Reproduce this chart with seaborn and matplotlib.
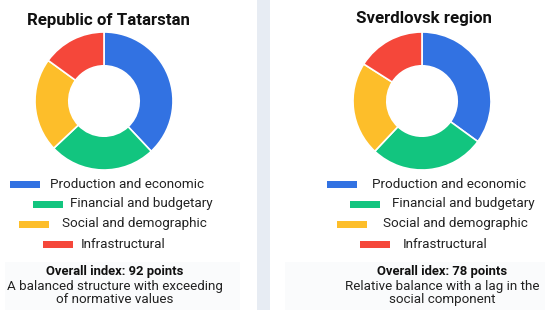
import matplotlib
matplotlib.use("Agg")
import matplotlib.pyplot as plt
import matplotlib.patches as mpatches
import seaborn as sns

sns.set_theme(style="white")
plt.rcParams['font.family'] = ['Roboto', 'DejaVu Sans']

# data
categories = ['Production and economic', 'Financial and budgetary',
              'Social and demographic', 'Infrastructural']
tatarstan_shares = [38, 25, 22, 15]
sverdlovsk_shares = [35, 27, 22, 16]
colors = ['#3272E2', '#12C57F', '#FDBE2A', '#F5473A']

regions = ['Republic of Tatarstan', 'Sverdlovsk region']
index_titles = ['Overall index: 92 points', 'Overall idex: 78 points']
index_notes = ['A balanced structure with exceeding\nof normative values',
               'Relative balance with a lag in the\nsocial component']

W, H = 550, 310
fig = plt.figure(figsize=(W / 100, H / 100), dpi=100)
bg = fig.add_axes([0, 0, 1, 1])
bg.set_xlim(0, W)
bg.set_ylim(H, 0)
bg.axis('off')

# separator band between panels
bg.add_patch(mpatches.Rectangle((257, 0), 13, H, color='#E7ECF3', lw=0))
# faint boxes behind the summary text
bg.add_patch(mpatches.Rectangle((5, 262), 235, 48, color='#FAFBFC', lw=0))
bg.add_patch(mpatches.Rectangle((285, 262), 260, 48, color='#FAFBFC', lw=0))

panels = [
    dict(shares=tatarstan_shares, cx=104, cy=101, title_x=108, title_y=20,
         rect_x=[10, 33, 19, 43], text_x=[50, 70, 62, 81], note_x=115),
    dict(shares=sverdlovsk_shares, cx=422, cy=101, title_x=424, title_y=18,
         rect_x=[327, 350, 337, 360], text_x=[372, 392, 383, 403], note_x=442),
]
legend_y = [184, 204, 224, 244]
r = 69

for i, p in enumerate(panels):
    ax = fig.add_axes([(p['cx'] - r) / W, (H - p['cy'] - r) / H, 2 * r / W, 2 * r / H])
    ax.pie(p['shares'], colors=colors, startangle=90, counterclock=False,
           radius=1, wedgeprops=dict(width=0.49, edgecolor='white', linewidth=1.2))
    ax.set_aspect('equal')
    ax.set_xlim(-1, 1)
    ax.set_ylim(-1, 1)
    ax.axis('off')

    bg.text(p['title_x'], p['title_y'], regions[i], ha='center', va='center',
            fontsize=12.2, fontweight='bold', color='#111111')

    for j, cat in enumerate(categories):
        bg.add_patch(mpatches.Rectangle((p['rect_x'][j], legend_y[j] - 3.5), 30, 7,
                                        color=colors[j], lw=0))
        bg.text(p['text_x'][j], legend_y[j], cat, ha='left', va='center',
                fontsize=9.7, color='#222222')

    bg.text(p['note_x'], 271, index_titles[i], ha='center', va='center',
            fontsize=9.4, fontweight='bold', color='#111111')
    bg.text(p['note_x'], 293, index_notes[i], ha='center', va='center',
            fontsize=9.6, color='#222222', linespacing=1.0)

fig.savefig('out.png', dpi=100)
